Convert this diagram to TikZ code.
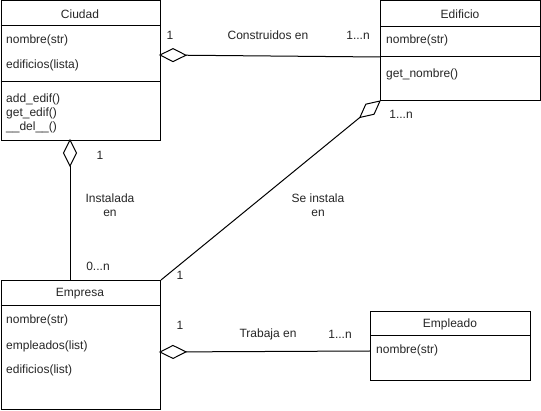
\documentclass[tikz,border=0pt]{standalone}
\usepackage{fontspec}
\setmainfont{Liberation Sans}
\usetikzlibrary{calc}
\newcommand\aggdiamond[2]{%
  \coordinate (dm) at ($(#1)!13pt!(#2)$);
  \coordinate (dt) at ($(#1)!26pt!(#2)$);
  \draw[ln] (dt) -- (#2);
  \draw[ln,fill=white,line join=miter] (#1) -- ($(dm)!6.5pt!90:(#2)$) -- (dt) -- ($(dm)!6.5pt!-90:(#2)$) -- cycle;
}
\begin{document}
\begin{tikzpicture}[x=1pt,y=-1pt,
  ln/.style={line width=1pt,draw=black},
  box/.style={draw, line width=1pt, rectangle, anchor=north west, inner sep=0pt},
  txt/.style={font=\fontsize{12}{14}\selectfont, inner sep=0pt, text=black!85},
  attr/.style={txt, anchor=west},
  ttl/.style={txt}]
\useasboundingbox (0,0) rectangle (541,411);
\fill[white] (0,0) rectangle (541,411);

% Boxes
\node[box, minimum width=159.5pt, minimum height=139.5pt] (ciudad) at (0.5,0.5) {};
\node[box, minimum width=160pt, minimum height=99.5pt] (edificio) at (380,0.5) {};
\node[box, minimum width=159.5pt, minimum height=129.5pt] (empresa) at (0.5,280) {};
\node[box, minimum width=160pt, minimum height=69pt] (empleado) at (370,311) {};

% Separators
\draw[ln] ([yshift=-25.5pt]ciudad.north west) -- ([yshift=-25.5pt]ciudad.north east);
\draw[ln] ([yshift=-81.5pt]ciudad.north west) -- ([yshift=-81.5pt]ciudad.north east);
\draw[ln] ([yshift=-26.5pt]edificio.north west) -- ([yshift=-26.5pt]edificio.north east);
\draw[ln] ([yshift=-56.5pt]edificio.north west) -- ([yshift=-56.5pt]edificio.north east);
\draw[ln] ([yshift=-26pt]empresa.north west) -- ([yshift=-26pt]empresa.north east);
\draw[ln] ([yshift=-25pt]empleado.north west) -- ([yshift=-25pt]empleado.north east);

% Texts Ciudad
\node[ttl] (tciudad) at (80,14) {Ciudad};
\node[attr] (c1) at (6,40) {nombre(str)};
\node[attr] (c2) at (6,65) {edificios(lista)};
\node[attr] (c3) at (6,99) {add\_edif()};
\node[attr] (c4) at (6,113) {get\_edif()};
\node[attr] (c5) at (6,127) {\_\_del\_\_()};
% Texts Edificio
\node[ttl] (tedif) at (460,14) {Edificio};
\node[attr] (e1) at (386,40) {nombre(str)};
\node[attr] (e2) at (386,74) {get\_nombre()};
% Texts Empresa
\node[ttl] (tempresa) at (80,294) {Empresa};
\node[attr] (p1) at (6,320) {nombre(str)};
\node[attr] (p2) at (6,346) {empleados(list)};
\node[attr] (p3) at (6,370) {edificios(list)};
% Texts Empleado
\node[ttl] (templ) at (450,324) {Empleado};
\node[attr] (m1) at (376,350) {nombre(str)};

% Connector anchors
\coordinate (ceA) at (160,55);
\coordinate (ceB) at (380,57);
\coordinate (cpA) at (70,140);
\coordinate (cpB) at (70,280);
\coordinate (epA) at (edificio.south west);
\coordinate (epB) at (empresa.north east);
\coordinate (pmA) at (160,352);
\coordinate (pmB) at (370,351);

\aggdiamond{ceA}{ceB}
\aggdiamond{cpA}{cpB}
\aggdiamond{epA}{epB}
\aggdiamond{pmA}{pmB}

% Labels
\node[txt] (l1) at (170,35) {1};
\node[txt] (l2) at (268,35) {Construidos en};
\node[txt] (l3) at (358,35) {1...n};
\node[txt] (l4) at (100,155) {1};
\node[txt, align=center] (l5) at (110,205.5) {Instalada\\en};
\node[txt] (l6) at (98,266) {0...n};
\node[txt] (l7) at (401,114) {1...n};
\node[txt, align=center] (l8) at (318,205.5) {Se instala\\en};
\node[txt] (l9) at (180,275) {1};
\node[txt] (l10) at (180,325) {1};
\node[txt] (l11) at (268,334) {Trabaja en};
\node[txt] (l12) at (340,334) {1...n};
\end{tikzpicture}
\end{document}
